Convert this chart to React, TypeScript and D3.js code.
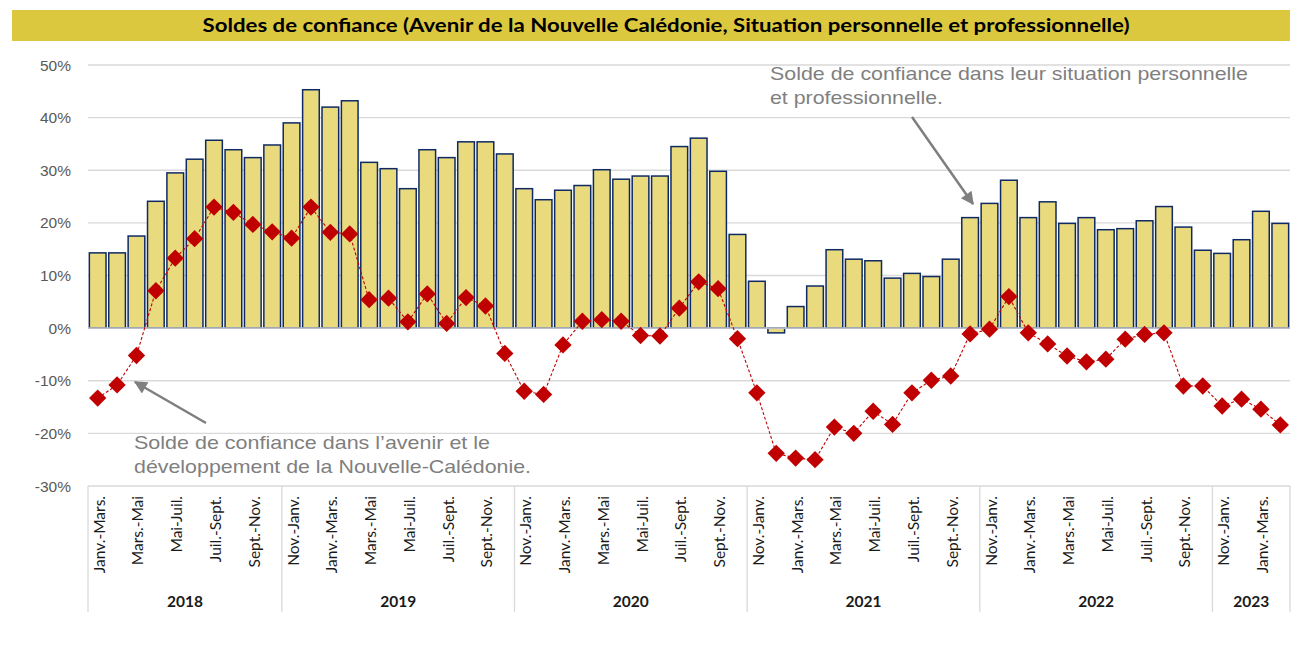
import React from "react";
import * as d3 from "d3";

const titleText =
  "Soldes de confiance (Avenir de la Nouvelle Calédonie, Situation personnelle et professionnelle)";

const years = ["2018", "2019", "2020", "2021", "2022", "2023"];
const yearCounts = [10, 12, 12, 12, 12, 4];

const periods2018 = [
  "Janv.-Mars.", "Févr.-Avr.", "Mars.-Mai", "Avr.-Juin", "Mai-Juil.",
  "Juin-Août", "Juil.-Sept.", "Août-Oct.", "Sept.-Nov.", "Oct.-Déc.",
];
const periodsFull = [
  "Nov.-Janv.", "Déc.-Févr.", "Janv.-Mars.", "Févr.-Avr.", "Mars.-Mai", "Avr.-Juin",
  "Mai-Juil.", "Juin-Août", "Juil.-Sept.", "Août-Oct.", "Sept.-Nov.", "Oct.-Déc.",
];
const periods2023 = ["Nov.-Janv.", "Déc.-Févr.", "Janv.-Mars.", "Févr.-Avr."];

const categories = [
  ...periods2018,
  ...periodsFull,
  ...periodsFull,
  ...periodsFull,
  ...periodsFull,
  ...periods2023,
];

// Solde de confiance dans leur situation personnelle et professionnelle (bars)
const situationPerso = [
  14.3, 14.3, 17.5, 24.1, 29.5, 32.1, 35.7, 33.9, 32.4, 34.8,
  39.0, 45.3, 42.0, 43.2, 31.5, 30.3, 26.5, 33.9, 32.4, 35.4, 35.4, 33.1,
  26.5, 24.4, 26.2, 27.1, 30.1, 28.3, 28.9, 28.9, 34.5, 36.1, 29.8, 17.8,
  8.9, -0.9, 4.1, 8.0, 14.9, 13.1, 12.8, 9.5, 10.4, 9.8, 13.1, 21.0,
  23.7, 28.1, 21.0, 24.0, 19.9, 21.0, 18.7, 18.9, 20.4, 23.1, 19.2, 14.8,
  14.2, 16.8, 22.2, 19.9,
];

// Solde de confiance dans l'avenir et le développement de la Nouvelle-Calédonie (diamonds)
const avenirNC = [
  -13.3, -10.8, -5.2, 7.1, 13.3, 17.0, 23.0, 22.0, 19.7, 18.3,
  17.1, 23.0, 18.2, 17.9, 5.4, 5.7, 1.2, 6.5, 0.9, 5.8, 4.2, -4.8,
  -12.0, -12.6, -3.2, 1.3, 1.6, 1.3, -1.4, -1.5, 3.8, 8.8, 7.5, -2.0,
  -12.3, -23.8, -24.7, -25.0, -18.8, -20.0, -15.8, -18.3, -12.3, -9.9, -9.1, -1.1,
  -0.2, 6.0, -0.9, -3.0, -5.3, -6.4, -5.9, -2.1, -1.2, -0.9, -11.0, -11.0,
  -14.8, -13.5, -15.4, -18.4,
];

const yTicks = [-30, -20, -10, 0, 10, 20, 30, 40, 50];

const annotTop = ["Solde de confiance dans leur situation personnelle", "et professionnelle."];
const annotBottom = ["Solde de confiance dans l\u2019avenir et le", "développement de la Nouvelle-Calédonie."];

export default function App() {
  const W = 1304;
  const H = 661;
  const left = 88;
  const right = 1290;
  const top = 65;
  const bottom = 486;

  const idx = d3.range(categories.length);
  const x = d3
    .scaleBand<number>()
    .domain(idx)
    .range([left, right])
    .paddingInner(0.14)
    .paddingOuter(0.07);
  const step = x.step();
  const bw = x.bandwidth();
  const cx = (i: number) => (x(i) as number) + bw / 2;
  const y = d3.scaleLinear().domain([-30, 50]).range([bottom, top]);

  const line = d3
    .line<number>()
    .x((_, i) => cx(i))
    .y((d) => y(d));

  const diamond = d3.symbol().type(d3.symbolSquare).size(150)() as string;

  const starts: number[] = [];
  let acc = 0;
  yearCounts.forEach((c) => {
    starts.push(acc);
    acc += c;
  });
  const boundary = (k: number) => left + k * step;

  const gray = "#7f7f7f";

  return (
    <svg
      width={W}
      height={H}
      style={{ position: "absolute", left: 0, top: 0, background: "#fff" }}
    >
      <defs>
        <marker
          id="ah"
          viewBox="0 0 10 10"
          refX={9}
          refY={5}
          markerUnits="userSpaceOnUse"
          markerWidth={16}
          markerHeight={13}
          orient="auto"
        >
          <path d="M0,0 L10,5 L0,10 z" fill={gray} />
        </marker>
      </defs>

      {/* Title bar */}
      <rect x={12} y={10} width={right - 12} height={31} fill="#DCC83F" />
      <text
        x={666}
        y={32}
        textAnchor="middle"
        fontFamily="Lato, 'Open Sans', sans-serif"
        fontWeight="bold"
        fontSize={19.5}
        textLength={927}
        lengthAdjust="spacingAndGlyphs"
        fill="#000"
      >
        {titleText}
      </text>

      {/* Gridlines */}
      {yTicks.map((t) => (
        <line
          key={"g" + t}
          x1={left}
          x2={right}
          y1={y(t)}
          y2={y(t)}
          stroke="#d9d9d9"
          strokeWidth={1.3}
        />
      ))}
      {yTicks.map((t) => (
        <text
          key={"yl" + t}
          x={71}
          y={y(t)}
          textAnchor="end"
          dominantBaseline="central"
          fontFamily="'Liberation Sans', Arial, sans-serif"
          fontSize={15.5}
          fill="#595959"
        >
          {t + "%"}
        </text>
      ))}

      {/* Bars */}
      {situationPerso.map((v, i) => (
        <rect
          key={"b" + i}
          x={x(i)}
          width={bw}
          y={y(Math.max(0, v))}
          height={Math.abs(y(v) - y(0))}
          fill="#E9DB7D"
          stroke="#0F2A63"
          strokeWidth={1.5}
        />
      ))}

      {/* Zero line */}
      <line x1={left} x2={right} y1={y(0)} y2={y(0)} stroke="#b9bdca" strokeWidth={1.6} />

      {/* Avenir line */}
      <path
        d={line(avenirNC) as string}
        fill="none"
        stroke="#C00000"
        strokeWidth={1.1}
        strokeDasharray="3 2"
      />
      {avenirNC.map((v, i) => (
        <path
          key={"d" + i}
          d={diamond}
          transform={`translate(${cx(i)},${y(v)}) rotate(45)`}
          fill="#C00000"
        />
      ))}

      {/* Category axis */}
      {starts.map((s, k) => (
        <line
          key={"sep" + k}
          x1={boundary(s)}
          x2={boundary(s)}
          y1={bottom}
          y2={612}
          stroke="#d9d9d9"
          strokeWidth={1.3}
        />
      ))}
      <line
        x1={right}
        x2={right}
        y1={bottom}
        y2={612}
        stroke="#d9d9d9"
        strokeWidth={1.3}
      />
      {categories.map((c, i) =>
        i % 2 === 0 ? (
          <text
            key={"c" + i}
            transform={`translate(${cx(i) + 1},${496}) rotate(-90)`}
            textAnchor="end"
            dominantBaseline="central"
            fontFamily="Lato, 'Open Sans', sans-serif"
            fontSize={15.5}
            fill="#1a1a1a"
          >
            {c}
          </text>
        ) : null
      )}
      {years.map((yr, k) => (
        <text
          key={"yr" + k}
          x={(boundary(starts[k]) + boundary(starts[k] + yearCounts[k])) / 2}
          y={607}
          textAnchor="middle"
          fontFamily="Lato, 'Open Sans', sans-serif"
          fontWeight="bold"
          fontSize={15.5}
          fill="#1a1a1a"
        >
          {yr}
        </text>
      ))}

      {/* Annotations */}
      <line x1={912} y1={117} x2={973} y2={204} stroke={gray} strokeWidth={2.5} markerEnd="url(#ah)" />
      <line x1={206} y1={423} x2={135} y2={382} stroke={gray} strokeWidth={2.5} markerEnd="url(#ah)" />
      <text
        x={770}
        y={80}
        fontFamily="'Liberation Sans', Arial, sans-serif"
        fontSize={19}
        fill={gray}
        textLength={478}
        lengthAdjust="spacingAndGlyphs"
      >
        {annotTop[0]}
      </text>
      <text
        x={770}
        y={104}
        fontFamily="'Liberation Sans', Arial, sans-serif"
        fontSize={19}
        fill={gray}
        textLength={173}
        lengthAdjust="spacingAndGlyphs"
      >
        {annotTop[1]}
      </text>
      <text
        x={134}
        y={449}
        fontFamily="'Liberation Sans', Arial, sans-serif"
        fontSize={19}
        fill={gray}
        textLength={356}
        lengthAdjust="spacingAndGlyphs"
      >
        {annotBottom[0]}
      </text>
      <text
        x={134}
        y={473}
        fontFamily="'Liberation Sans', Arial, sans-serif"
        fontSize={19}
        fill={gray}
        textLength={397}
        lengthAdjust="spacingAndGlyphs"
      >
        {annotBottom[1]}
      </text>
    </svg>
  );
}
